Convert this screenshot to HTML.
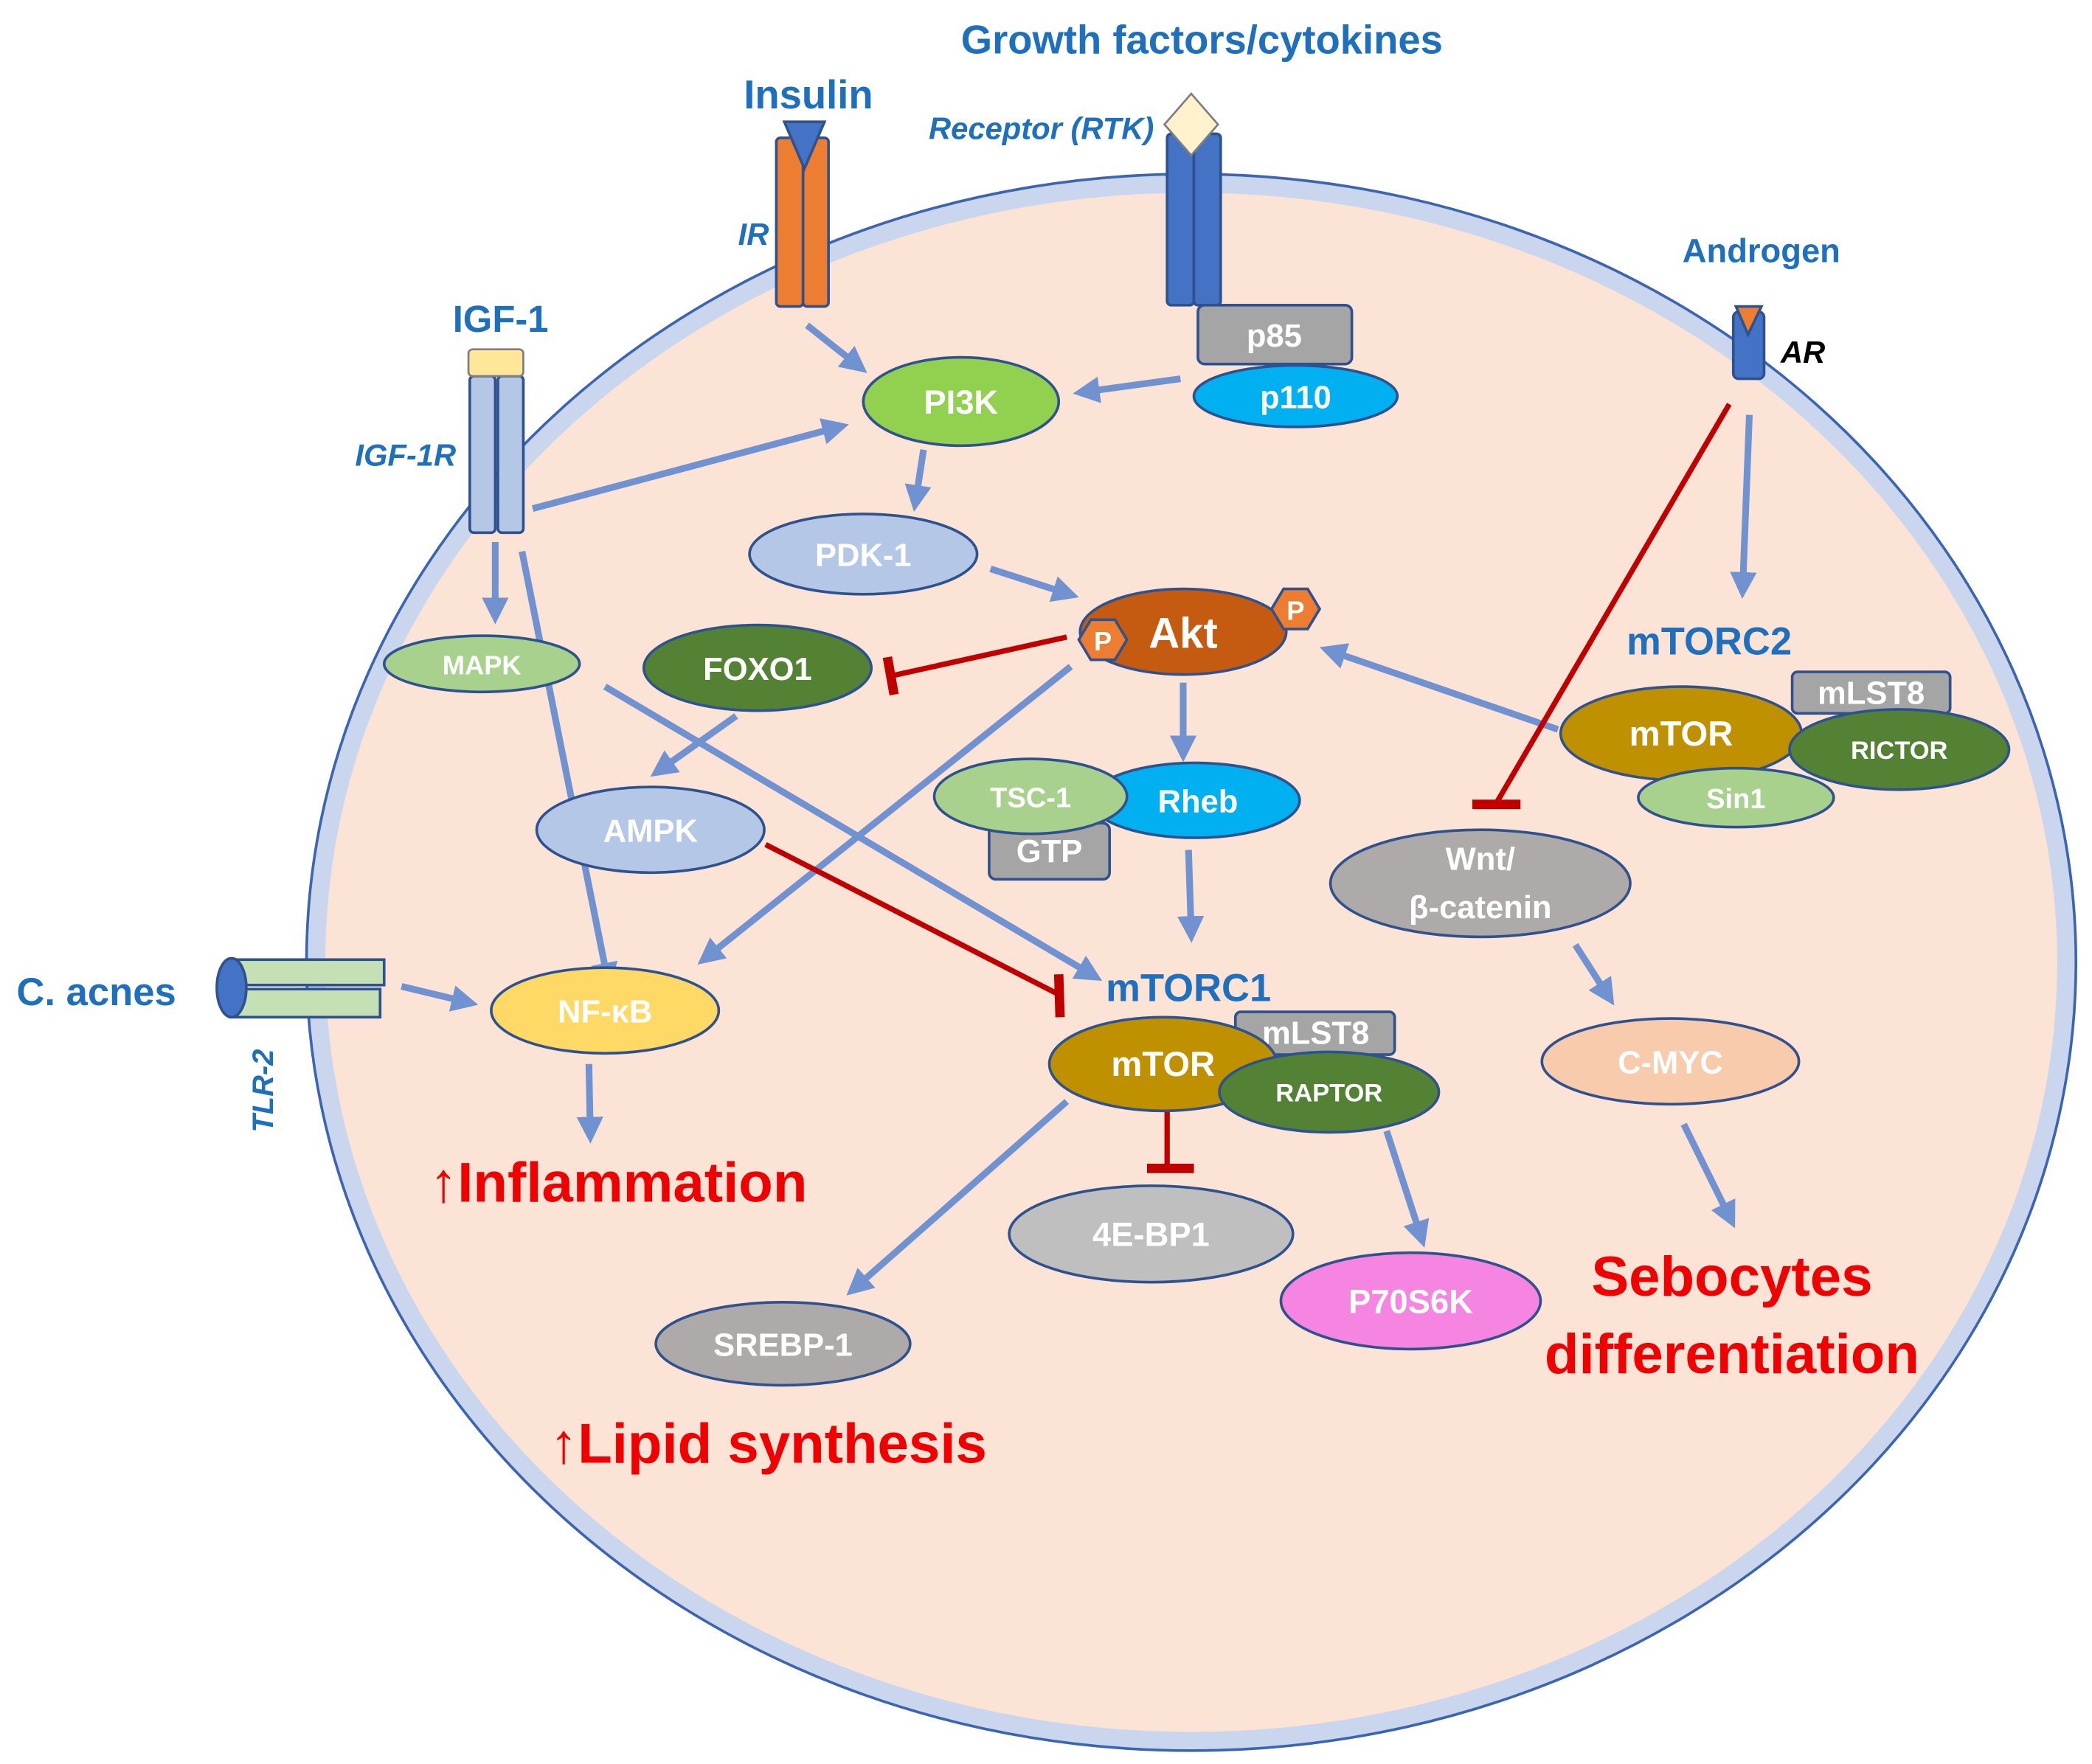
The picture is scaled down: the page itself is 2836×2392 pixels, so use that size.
<!DOCTYPE html>
<html><head><meta charset="utf-8"><style>
html,body{margin:0;padding:0;background:#fff;}
svg{display:block;}
text{font-family:"Liberation Sans",sans-serif;}
.w{fill:#fff;font-weight:bold;text-anchor:middle;}
.b{fill:#1f6fbf;font-weight:bold;text-anchor:middle;}
.i{fill:#1f6fbf;font-style:italic;font-weight:bold;text-anchor:middle;}
.r{fill:#f00000;font-weight:bold;text-anchor:middle;}
.n{stroke:#2f528f;stroke-width:2;}
.a{stroke:#7092d0;stroke-width:5;fill:none;marker-end:url(#ah);}
.h{stroke:#c00000;stroke-width:4;fill:none;}
</style></head><body>
<svg width="2836" height="2392" viewBox="0 0 1563 1318" preserveAspectRatio="none" xmlns="http://www.w3.org/2000/svg">
<defs>
<marker id="ah" markerWidth="4" markerHeight="4" refX="2.5" refY="2" orient="auto" markerUnits="strokeWidth"><path d="M0,0 L4,2 L0,4 Z" fill="#7092d0"/></marker>
</defs>
<rect width="1563" height="1318" fill="#fff"/>
<!-- cell -->
<ellipse cx="890" cy="719" rx="661" ry="589" fill="#c9d6ee" stroke="#3c64b0" stroke-width="2"/>
<ellipse cx="890" cy="719" rx="647" ry="575" fill="#fbe3d6"/>

<text x="898" y="40" class="b" font-size="30">Growth factors/cytokines</text>
<text x="604" y="81" class="b" font-size="30">Insulin</text>
<text x="374" y="248" class="b" font-size="28">IGF-1</text>
<text x="1316" y="196" class="b" font-size="25">Androgen</text>
<text x="72" y="751" class="b" font-size="29">C. acnes</text>
<text x="778" y="104" class="i" font-size="23">Receptor (RTK)</text>
<text x="563" y="183" class="i" font-size="23">IR</text>
<text x="303" y="348" class="i" font-size="23">IGF-1R</text>
<text x="1347" y="271" font-size="23" font-weight="bold" font-style="italic" text-anchor="middle" fill="#000">AR</text>
<text transform="translate(204,815) rotate(-90)" class="i" font-size="22">TLR-2</text>

<!-- IR -->
<rect x="580" y="103" width="20" height="126" rx="3" fill="#ed7d31" class="n"/>
<rect x="600" y="103" width="19" height="126" rx="3" fill="#ed7d31" class="n"/>
<path d="M586,91 L616,91 L601,126 Z" fill="#4472c4" class="n"/>
<!-- RTK -->
<rect x="872" y="100" width="20" height="128" rx="3" fill="#4472c4" class="n"/>
<rect x="892" y="100" width="20" height="128" rx="3" fill="#4472c4" class="n"/>
<path d="M890,70 L910,93 L890,116 L870,93 Z" fill="#fff2cc" stroke="#7f7f7f" stroke-width="1.5"/>
<!-- IGF-1R -->
<rect x="351" y="281" width="19" height="117" rx="3" fill="#b4c7e7" class="n"/>
<rect x="372" y="281" width="19" height="117" rx="3" fill="#b4c7e7" class="n"/>
<rect x="350" y="261" width="41" height="20" rx="3" fill="#ffe699" stroke="#7f7f7f" stroke-width="1.5"/>
<!-- AR -->
<rect x="1295" y="233" width="23" height="50" rx="4" fill="#4472c4" class="n"/>
<path d="M1297,229 L1316,229 L1306,250 Z" fill="#ed7d31" class="n"/>
<!-- TLR-2 -->
<rect x="172" y="717" width="115" height="19" fill="#c5e0b4" class="n"/>
<rect x="172" y="739" width="112" height="21" fill="#c5e0b4" class="n"/>
<ellipse cx="173" cy="738" rx="11" ry="22" fill="#4472c4" class="n"/>

<!-- arrows -->
<line x1="603" y1="243" x2="642" y2="274" class="a"/>
<line x1="882" y1="283" x2="809" y2="293" class="a"/>
<line x1="398" y1="380" x2="627" y2="319" class="a"/>
<line x1="690" y1="336" x2="684" y2="375" class="a"/>
<line x1="740" y1="425" x2="799" y2="444" class="a"/>
<line x1="884" y1="510" x2="884" y2="562" class="a"/>
<line x1="1164" y1="545" x2="993" y2="486" class="a"/>
<line x1="1307" y1="310" x2="1302" y2="440" class="a"/>
<line x1="370" y1="405" x2="370" y2="459" class="a"/>
<line x1="390" y1="412" x2="454" y2="732" class="a"/>
<line x1="452" y1="513" x2="817" y2="729" class="a"/>
<line x1="550" y1="535" x2="492" y2="576" class="a"/>
<line x1="800" y1="498" x2="527" y2="716" class="a"/>
<line x1="888" y1="635" x2="890" y2="697" class="a"/>
<line x1="300" y1="737" x2="350" y2="749" class="a"/>
<line x1="440" y1="795" x2="441" y2="847" class="a"/>
<line x1="1177" y1="706" x2="1202" y2="745" class="a"/>
<line x1="1258" y1="840" x2="1293" y2="911" class="a"/>
<line x1="797" y1="823" x2="638" y2="963" class="a"/>
<line x1="1036" y1="845" x2="1062" y2="925" class="a"/>
<!-- inhibitions -->
<line x1="797" y1="476" x2="666" y2="505" class="h"/>
<line x1="663" y1="491" x2="668" y2="519" stroke="#c00000" stroke-width="7"/>
<line x1="572" y1="631" x2="791" y2="743" class="h"/>
<line x1="791" y1="728" x2="792" y2="760" stroke="#c00000" stroke-width="7"/>
<line x1="1292" y1="302" x2="1118" y2="600" class="h"/>
<line x1="1100" y1="601" x2="1136" y2="601" stroke="#c00000" stroke-width="7"/>
<line x1="872" y1="829" x2="872" y2="872" class="h"/>
<line x1="857" y1="873" x2="892" y2="873" stroke="#c00000" stroke-width="7"/>

<!-- nodes -->
<rect x="895" y="228" width="115" height="44" rx="5" fill="#a5a5a5" class="n"/>
<text x="952" y="259" class="w" font-size="24">p85</text>
<ellipse cx="968" cy="296" rx="76" ry="23" fill="#00b0f0" class="n"/>
<text x="968" y="305" class="w" font-size="24">p110</text>
<ellipse cx="718" cy="300" rx="73" ry="33" fill="#92d050" class="n"/>
<text x="718" y="309" class="w" font-size="25">PI3K</text>
<ellipse cx="645" cy="414" rx="85" ry="30" fill="#b4c7e7" class="n"/>
<text x="645" y="423" class="w" font-size="24">PDK-1</text>
<ellipse cx="884" cy="472" rx="77" ry="32" fill="#c55a11" class="n"/>
<text x="884" y="484" class="w" font-size="32">Akt</text>
<path d="M815,463 L833,463 L842,478 L833,493 L815,493 L806,478 Z" fill="#ed7d31" class="n"/>
<text x="824" y="486" class="w" font-size="20">P</text>
<path d="M959,440 L977,440 L986,455 L977,470 L959,470 L950,455 Z" fill="#ed7d31" class="n"/>
<text x="968" y="463" class="w" font-size="20">P</text>
<ellipse cx="566" cy="499" rx="85" ry="32" fill="#548235" class="n"/>
<text x="566" y="508" class="w" font-size="24">FOXO1</text>
<ellipse cx="360" cy="496" rx="73" ry="21" fill="#a9d18e" class="n"/>
<text x="360" y="504" class="w" font-size="20">MAPK</text>
<ellipse cx="486" cy="620" rx="85" ry="32" fill="#b4c7e7" class="n"/>
<text x="486" y="629" class="w" font-size="24">AMPK</text>
<ellipse cx="893" cy="598" rx="78" ry="28" fill="#00b0f0" class="n"/>
<text x="895" y="607" class="w" font-size="24">Rheb</text>
<rect x="739" y="615" width="90" height="42" rx="5" fill="#a5a5a5" class="n"/>
<text x="784" y="644" class="w" font-size="24">GTP</text>
<ellipse cx="770" cy="595" rx="72" ry="28" fill="#a9d18e" class="n"/>
<text x="770" y="603" class="w" font-size="21">TSC-1</text>

<text x="1277" y="489" class="b" font-size="29">mTORC2</text>
<rect x="1339" y="502" width="118" height="31" rx="4" fill="#a5a5a5" class="n"/>
<text x="1398" y="526" class="w" font-size="24">mLST8</text>
<ellipse cx="1256" cy="548" rx="90" ry="35" fill="#bf9000" class="n"/>
<text x="1256" y="557" class="w" font-size="26">mTOR</text>
<ellipse cx="1419" cy="560" rx="82" ry="30" fill="#548235" class="n"/>
<text x="1419" y="567" class="w" font-size="19">RICTOR</text>
<ellipse cx="1297" cy="596" rx="73" ry="22" fill="#a9d18e" class="n"/>
<text x="1297" y="604" class="w" font-size="21">Sin1</text>

<ellipse cx="1106" cy="660" rx="112" ry="40" fill="#aeaaaa" class="n"/>
<text x="1106" y="650" class="w" font-size="24">Wnt/</text>
<text x="1106" y="686" class="w" font-size="24">β-catenin</text>
<ellipse cx="1248" cy="793" rx="96" ry="32" fill="#f8cbad" class="n"/>
<text x="1248" y="802" class="w" font-size="24">C-MYC</text>

<text x="888" y="748" class="b" font-size="29">mTORC1</text>
<rect x="923" y="756" width="119" height="32" rx="4" fill="#a5a5a5" class="n"/>
<text x="983" y="780" class="w" font-size="24">mLST8</text>
<ellipse cx="869" cy="795" rx="85" ry="35" fill="#bf9000" class="n"/>
<text x="869" y="804" class="w" font-size="26">mTOR</text>
<ellipse cx="993" cy="816" rx="82" ry="30" fill="#548235" class="n"/>
<text x="993" y="823" class="w" font-size="19">RAPTOR</text>

<ellipse cx="452" cy="755" rx="85" ry="32" fill="#ffd966" class="n"/>
<text x="452" y="764" class="w" font-size="24">NF-κB</text>
<ellipse cx="860" cy="922" rx="106" ry="36" fill="#bfbfbf" class="n"/>
<text x="860" y="931" class="w" font-size="25">4E-BP1</text>
<ellipse cx="1054" cy="972" rx="97" ry="36" fill="#f585e0" class="n"/>
<text x="1054" y="981" class="w" font-size="25">P70S6K</text>
<ellipse cx="585" cy="1004" rx="95" ry="31" fill="#aeaaaa" class="n"/>
<text x="585" y="1013" class="w" font-size="24">SREBP-1</text>

<text x="462" y="898" class="r" font-size="42">↑Inflammation</text>
<text x="574" y="1093" class="r" font-size="42">↑Lipid synthesis</text>
<text x="1294" y="968" class="r" font-size="42">Sebocytes</text>
<text x="1294" y="1026" class="r" font-size="42">differentiation</text>
</svg>
</body></html>
